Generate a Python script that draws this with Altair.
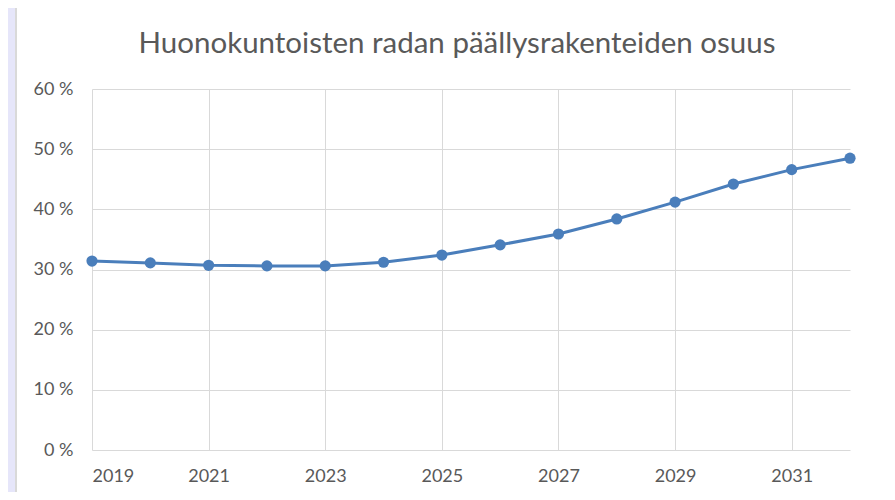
import altair as alt
import pandas as pd

years = [2019, 2020, 2021, 2022, 2023, 2024, 2025, 2026, 2027, 2028, 2029, 2030, 2031, 2032]
share = [0.314, 0.311, 0.307, 0.306, 0.306, 0.312, 0.324, 0.341, 0.359, 0.384, 0.412, 0.442, 0.466, 0.485]
x_ticks = [2019, 2021, 2023, 2025, 2027, 2029, 2031]
y_ticks = [0, 0.1, 0.2, 0.3, 0.4, 0.5, 0.6]
title_text = "Huonokuntoisten radan päällysrakenteiden osuus"

df = pd.DataFrame({"year": years, "share": share})

FONT = "Lato"
GRAY = "#595959"
GRID = "#d9d9d9"
BLUE = "#4a7ebb"

x = alt.X("year:Q", scale=alt.Scale(domain=[2019, 2032], nice=False, zero=False),
          axis=alt.Axis(values=x_ticks, format="d", title=None, grid=True, gridColor=GRID,
                        domain=False, ticks=False, labelPadding=17, labelFontSize=18,
                        labelColor=GRAY, labelFont=FONT))
y = alt.Y("share:Q", scale=alt.Scale(domain=[0, 0.6], nice=False),
          axis=alt.Axis(values=y_ticks, title=None, grid=True, gridColor=GRID,
                        domain=False, ticks=False, labelPadding=19, labelFontSize=18,
                        labelColor=GRAY, labelFont=FONT,
                        labelExpr="format(datum.value*100, 'd') + ' %'"))

# decorative frame: lavender strip and grey border on the left edge
strip = alt.Chart(df).mark_rect(fill="#e6e6fa").encode(
    x=alt.value(-84), x2=alt.value(-77), y=alt.value(-81), y2=alt.value(411)
)
border = alt.Chart(df).mark_rule(color="#d9d9d9", strokeWidth=2).encode(
    x=alt.value(-76), y=alt.value(-81), y2=alt.value(411)
)

line = alt.Chart(df).mark_line(color=BLUE, strokeWidth=3).encode(x=x, y=y)
pts = alt.Chart(df).mark_circle(color=BLUE, size=125, opacity=1).encode(x=x, y=y)

chart = alt.layer(strip, border, line, pts).properties(
    width=758, height=361,
    autosize=alt.AutoSizeParams(type="none"),
    padding={"left": 84, "top": 81, "right": 37, "bottom": 42},
    background="white",
    title=alt.TitleParams(title_text, font=FONT, fontSize=29.5, fontWeight="normal",
                          color=GRAY, anchor="middle", dx=-14, offset=0, dy=52),
).configure_view(stroke=None)

chart.save("out.html", embed_options={"renderer": "svg", "actions": False})
